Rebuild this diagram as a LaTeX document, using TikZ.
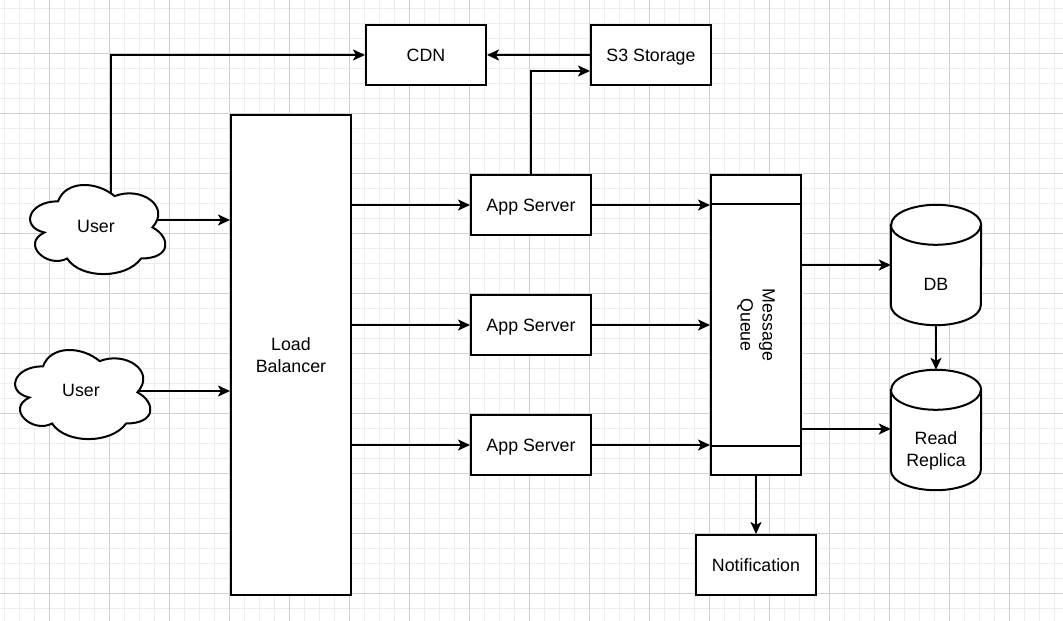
\documentclass[tikz,border=0pt]{standalone}
\usepackage{fontspec}
\setmainfont{Liberation Sans}
\usetikzlibrary{arrows.meta,calc}
\definecolor{minorgrid}{HTML}{EDEDED}
\definecolor{majorgrid}{HTML}{D0D0D0}
\newcommand\lbltext{\fontsize{17.8}{22}\selectfont}
\tikzset{
  line/.style={line width=2pt, draw=black},
  box/.style={draw=black, line width=2pt, fill=white, inner sep=0pt,
    minimum width=120pt, minimum height=60pt, font=\lbltext, align=center, text depth=0pt},
  txt/.style={font=\lbltext, align=center, inner sep=0pt, text depth=0pt},
  arr/.style={line width=2pt, draw=black, -{Stealth[length=12pt,width=11pt,inset=3pt]}},
}
\begin{document}
\begin{tikzpicture}[x=1pt,y=-1pt]
\useasboundingbox (0,0) rectangle (1063,621);
\fill[white] (0,0) rectangle (1063,621);
% grid
\foreach \k in {0,...,70} {\draw[minorgrid, line width=1pt] ({4.5+15*\k},0) -- ({4.5+15*\k},621);}
\foreach \k in {0,...,40} {\draw[minorgrid, line width=1pt] (0,{8.5+15*\k}) -- (1063,{8.5+15*\k});}
\foreach \k in {0,...,16} {\draw[majorgrid, line width=1pt] ({49.5+60*\k},0) -- ({49.5+60*\k},621);}
\foreach \k in {0,...,9} {\draw[majorgrid, line width=1pt] (0,{53.5+60*\k}) -- (1063,{53.5+60*\k});}

% boxes
\node[box] (cdn) at (426,55) {CDN};
\node[box] (s3) at (651,55) {S3 Storage};
\node[box, minimum height=480pt] (lb) at (291,355) {Load\\Balancer};
\node[box] (app1) at (531,205) {App Server};
\node[box] (app2) at (531,325) {App Server};
\node[box] (app3) at (531,445) {App Server};
\node[box, minimum width=90pt, minimum height=300pt] (mq) at (756,325) {};
\draw[line] ([yshift=-30pt]mq.north west) -- ([yshift=-30pt]mq.north east);
\draw[line] ([yshift=30pt]mq.south west) -- ([yshift=30pt]mq.south east);
\node[font=\lbltext, align=center, inner sep=0pt, rotate=-90] (mqt) at (mq.center) {Message\\Queue};
\node[box] (notif) at (756,565) {Notification};

% cylinders
\foreach \n/\c in {db/{(936,265)}, rr/{(936,430)}} {
  \node[inner sep=0pt, minimum width=90pt, minimum height=120pt] (\n) at \c {};
  \path[line, fill=white] ([yshift=-20pt]\n.north west) -- ([yshift=20pt]\n.south west)
    arc[start angle=180, end angle=360, x radius=45pt, y radius=20pt]
    -- ([yshift=-20pt]\n.north east)
    arc[start angle=0, end angle=180, x radius=45pt, y radius=20pt] -- cycle;
  \draw[line] ([yshift=-20pt]\n.north west)
    arc[start angle=180, end angle=360, x radius=45pt, y radius=20pt];
}
\node[txt] (dbt) at ([yshift=-19pt]db.center) {DB};
\node[txt] (rrt) at ([yshift=-19pt]rr.center) {Read\\Replica};

% users (clouds)
\node[inner sep=0pt, minimum width=151pt, minimum height=104pt] (u1) at (96,227.5) {};
\node[inner sep=0pt, minimum width=151pt, minimum height=104pt] (u2) at (81,392.5) {};
\coordinate (u1n) at ([shift={(15,-22.5)}]u1.center);
\coordinate (u1e) at ([shift={(54,-7.5)}]u1.center);
\coordinate (u2e) at ([shift={(51,-1.5)}]u2.center);
\draw[arr] (u1n) |- (cdn.west);
\draw[arr] (u1e) -- (u1e -| lb.west);
\draw[arr] (u2e) -- (u2e -| lb.west);
\foreach \n in {u1,u2} {
  \begin{scope}[shift={(\n.north west)}, x=151pt, y=-104pt]
    \draw[line, fill=white] (0.25,0.25) .. controls (0.05,0.25) and (0,0.5) .. (0.16,0.55)
      .. controls (0,0.66) and (0.18,0.9) .. (0.31,0.8)
      .. controls (0.4,1) and (0.7,1) .. (0.8,0.8)
      .. controls (1,0.8) and (1,0.6) .. (0.875,0.5)
      .. controls (1,0.3) and (0.8,0.1) .. (0.625,0.2)
      .. controls (0.5,0.05) and (0.3,0.05) .. (0.25,0.25) -- cycle;
  \end{scope}
}
\node[txt] (u1t) at ([shift={(0,-1)}]u1.center) {User};
\node[txt] (u2t) at ([shift={(0,-2)}]u2.center) {User};

% connectors
\foreach \a in {app1,app2,app3} {
  \draw[arr] (lb.east |- \a.west) -- (\a.west);
  \draw[arr] (\a.east) -- (\a.east -| mq.west);
}
\draw[arr] (app1.north) |- ([yshift=-16pt]s3.west);
\draw[arr] (s3.west) -- (cdn.east);
\draw[arr] (mq.east |- db.west) -- (db.west);
\draw[arr] ([yshift=1pt]mq.east |- rr.west) -- ([yshift=1pt]rr.west);
\draw[arr] (db.south) -- (rr.north);
\draw[arr] (mq.south) -- (notif.north);
\end{tikzpicture}
\end{document}
